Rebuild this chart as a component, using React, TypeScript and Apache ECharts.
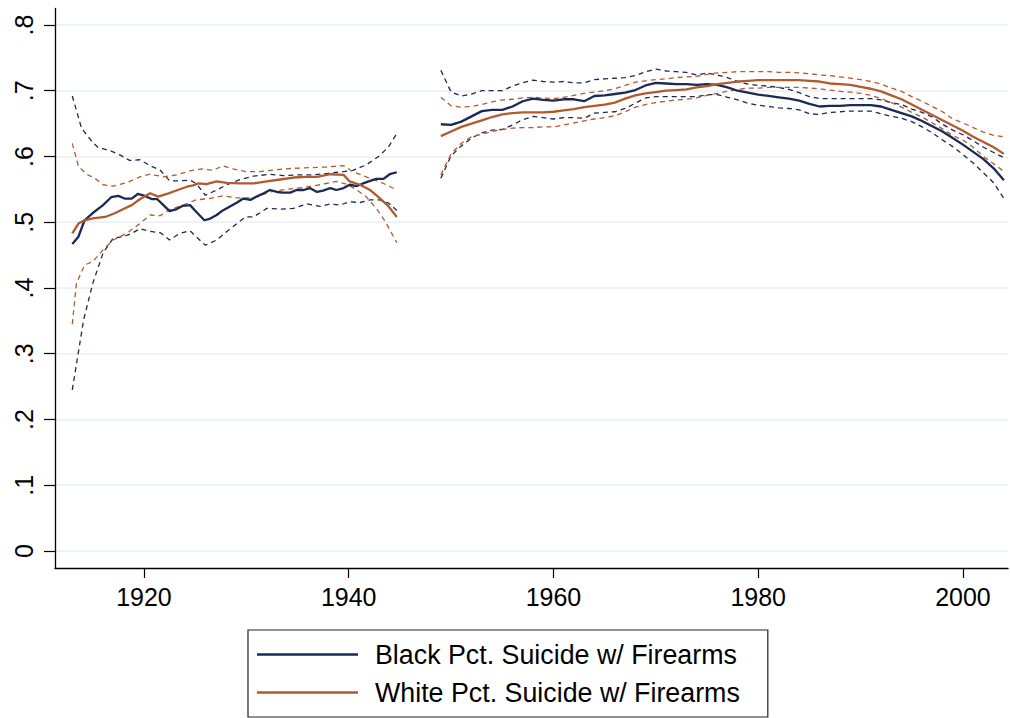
import React, { useEffect, useRef } from "react";
import * as echarts from "echarts";

// Axis ticks
const xTicks = [1920, 1940, 1960, 1980, 2000];
const yTicks = [0, 0.1, 0.2, 0.3, 0.4, 0.5, 0.6, 0.7, 0.8];

// Legend labels
const blackName = "Black Pct. Suicide w/ Firearms";
const whiteName = "White Pct. Suicide w/ Firearms";

// Early period (1913-1945): [year, share]
const blackEarly = [
  [1913.0, 0.467], [1913.6, 0.478], [1914.2, 0.503], [1915.0, 0.514], [1916.0, 0.526],
  [1916.8, 0.538], [1917.5, 0.54], [1918.1, 0.536], [1918.8, 0.536], [1919.4, 0.543],
  [1920.1, 0.54], [1920.8, 0.535], [1921.3, 0.535], [1921.9, 0.526], [1922.5, 0.517],
  [1923.2, 0.52], [1923.8, 0.525], [1924.5, 0.526], [1925.1, 0.516], [1925.9, 0.503],
  [1926.4, 0.505], [1927.1, 0.511], [1927.7, 0.518], [1928.4, 0.524], [1929.1, 0.53],
  [1929.7, 0.536], [1930.4, 0.534], [1931.0, 0.539], [1931.7, 0.544], [1932.3, 0.549],
  [1933.0, 0.546], [1933.6, 0.545], [1934.3, 0.545], [1934.9, 0.549], [1935.6, 0.549],
  [1936.2, 0.552], [1936.9, 0.546], [1937.5, 0.548], [1938.2, 0.552], [1938.8, 0.549],
  [1939.5, 0.552], [1940.1, 0.557], [1940.8, 0.555], [1941.4, 0.559], [1942.1, 0.563],
  [1942.7, 0.566], [1943.4, 0.566], [1944.0, 0.573], [1944.7, 0.576],
];
const blackEarlyHi = [
  [1913.0, 0.692], [1913.9, 0.643], [1914.9, 0.623], [1915.5, 0.614], [1916.8, 0.608],
  [1917.7, 0.602], [1918.6, 0.594], [1919.6, 0.595], [1920.6, 0.586], [1921.6, 0.579],
  [1922.5, 0.563], [1923.5, 0.563], [1924.5, 0.564], [1925.1, 0.559], [1926.0, 0.541],
  [1927.1, 0.549], [1928.1, 0.557], [1929.4, 0.565], [1930.7, 0.57], [1932.3, 0.573],
  [1933.6, 0.571], [1935.2, 0.572], [1936.5, 0.572], [1937.8, 0.574], [1939.5, 0.577],
  [1940.4, 0.579], [1941.7, 0.587], [1943.0, 0.601], [1943.9, 0.615], [1944.7, 0.635],
];
const blackEarlyLo = [
  [1913.0, 0.245], [1914.1, 0.351], [1915.0, 0.407], [1916.0, 0.453], [1917.0, 0.476],
  [1918.0, 0.478], [1918.8, 0.483], [1919.6, 0.49], [1920.6, 0.486], [1921.6, 0.484],
  [1922.5, 0.473], [1923.5, 0.483], [1924.5, 0.487], [1925.1, 0.478], [1926.0, 0.465],
  [1927.1, 0.473], [1928.1, 0.486], [1929.1, 0.498], [1929.9, 0.508], [1930.7, 0.508],
  [1932.0, 0.521], [1933.3, 0.52], [1934.6, 0.521], [1935.9, 0.528], [1937.2, 0.524],
  [1938.2, 0.528], [1939.1, 0.526], [1940.1, 0.531], [1941.1, 0.53], [1942.1, 0.534],
  [1943.0, 0.534], [1943.9, 0.529], [1944.7, 0.518],
];
const whiteEarly = [
  [1913.0, 0.483], [1913.6, 0.498], [1914.2, 0.503], [1915.0, 0.506], [1916.2, 0.508],
  [1917.2, 0.514], [1918.0, 0.52], [1918.8, 0.526], [1919.6, 0.535], [1920.6, 0.544],
  [1921.4, 0.539], [1922.4, 0.544], [1923.3, 0.549], [1924.2, 0.554], [1924.8, 0.556],
  [1925.3, 0.559], [1926.1, 0.558], [1927.1, 0.562], [1928.1, 0.56], [1929.4, 0.559],
  [1930.7, 0.559], [1932.0, 0.562], [1933.3, 0.565], [1934.6, 0.568], [1935.9, 0.569],
  [1936.9, 0.569], [1937.5, 0.571], [1938.2, 0.573], [1939.5, 0.572], [1940.1, 0.562],
  [1941.1, 0.557], [1942.1, 0.549], [1943.0, 0.537], [1943.9, 0.524], [1944.7, 0.508],
];
const whiteEarlyHi = [
  [1913.0, 0.62], [1913.6, 0.585], [1914.4, 0.573], [1915.2, 0.567], [1916.0, 0.557],
  [1917.0, 0.555], [1918.3, 0.56], [1919.6, 0.569], [1920.6, 0.573], [1921.9, 0.569],
  [1923.2, 0.572], [1924.5, 0.578], [1925.6, 0.581], [1926.8, 0.579], [1927.7, 0.586],
  [1928.7, 0.581], [1930.0, 0.577], [1931.3, 0.577], [1933.0, 0.58], [1934.6, 0.582],
  [1936.2, 0.583], [1937.8, 0.584], [1939.5, 0.586], [1940.4, 0.577], [1941.7, 0.569],
  [1943.0, 0.562], [1944.7, 0.549],
];
const whiteEarlyLo = [
  [1913.0, 0.345], [1913.4, 0.407], [1914.2, 0.435], [1915.0, 0.44], [1916.0, 0.458],
  [1917.0, 0.473], [1918.3, 0.483], [1919.6, 0.498], [1920.6, 0.511], [1921.6, 0.51],
  [1922.5, 0.519], [1923.8, 0.526], [1925.1, 0.534], [1926.4, 0.536], [1927.7, 0.54],
  [1929.1, 0.537], [1930.7, 0.537], [1932.3, 0.546], [1933.9, 0.55], [1935.6, 0.553],
  [1937.2, 0.557], [1938.8, 0.562], [1939.8, 0.558], [1940.8, 0.549], [1941.7, 0.539],
  [1942.7, 0.521], [1943.5, 0.503], [1944.7, 0.469],
];

// Later period, one value per year 1949-2004
const lateYears = Array.from({ length: 56 }, (_, i) => 1949 + i);
const blackLate = [
  0.649, 0.648, 0.653, 0.661, 0.669, 0.671, 0.671, 0.676, 0.684, 0.688,
  0.686, 0.685, 0.687, 0.687, 0.684, 0.692, 0.693, 0.695, 0.697, 0.701,
  0.708, 0.712, 0.711, 0.71, 0.71, 0.709, 0.71, 0.709, 0.705, 0.7,
  0.697, 0.694, 0.692, 0.69, 0.688, 0.685, 0.68, 0.676, 0.677, 0.677,
  0.678, 0.678, 0.678, 0.676, 0.671, 0.666, 0.661, 0.654, 0.646, 0.638,
  0.628, 0.618, 0.607, 0.596, 0.582, 0.564,
];
const blackLateHi = [
  0.731, 0.698, 0.692, 0.695, 0.7, 0.7, 0.7, 0.707, 0.712, 0.716,
  0.714, 0.713, 0.714, 0.712, 0.712, 0.717, 0.718, 0.719, 0.72, 0.723,
  0.729, 0.733, 0.73, 0.729, 0.728, 0.724, 0.727, 0.724, 0.72, 0.714,
  0.71, 0.708, 0.707, 0.705, 0.702, 0.697, 0.691, 0.688, 0.688, 0.688,
  0.688, 0.688, 0.688, 0.686, 0.682, 0.679, 0.672, 0.667, 0.66, 0.649,
  0.64, 0.633, 0.624, 0.614, 0.606, 0.598,
];
const blackLateLo = [
  0.567, 0.601, 0.616, 0.628, 0.636, 0.64, 0.641, 0.648, 0.656, 0.661,
  0.659, 0.657, 0.659, 0.659, 0.658, 0.666, 0.667, 0.668, 0.673, 0.681,
  0.689, 0.691, 0.691, 0.691, 0.691, 0.691, 0.694, 0.694, 0.69, 0.686,
  0.681, 0.678, 0.676, 0.674, 0.673, 0.671, 0.665, 0.664, 0.667, 0.668,
  0.669, 0.669, 0.669, 0.665, 0.661, 0.658, 0.653, 0.645, 0.636, 0.625,
  0.615, 0.603, 0.59, 0.575, 0.56, 0.536,
];
const whiteLate = [
  0.631, 0.638, 0.645, 0.65, 0.655, 0.66, 0.664, 0.666, 0.667, 0.667,
  0.667, 0.668, 0.67, 0.672, 0.675, 0.677, 0.679, 0.682, 0.688, 0.693,
  0.696, 0.698, 0.7, 0.701, 0.702, 0.705, 0.707, 0.71, 0.712, 0.714,
  0.715, 0.716, 0.716, 0.716, 0.716, 0.716, 0.715, 0.714, 0.711, 0.71,
  0.709, 0.706, 0.703, 0.699, 0.693, 0.687, 0.679, 0.671, 0.663, 0.655,
  0.647, 0.639, 0.63, 0.622, 0.614, 0.604,
];
const whiteLateHi = [
  0.69, 0.677, 0.675, 0.676, 0.679, 0.683, 0.686, 0.687, 0.689, 0.69,
  0.689, 0.688, 0.69, 0.693, 0.696, 0.698, 0.7, 0.703, 0.708, 0.713,
  0.715, 0.717, 0.718, 0.72, 0.721, 0.722, 0.725, 0.727, 0.728, 0.729,
  0.729, 0.729, 0.729, 0.728, 0.728, 0.727, 0.726, 0.724, 0.723, 0.721,
  0.719, 0.717, 0.714, 0.71, 0.704, 0.699, 0.691, 0.684, 0.676, 0.668,
  0.657, 0.651, 0.644, 0.637, 0.632, 0.63,
];
const whiteLateLo = [
  0.572, 0.604, 0.62, 0.63, 0.634, 0.638, 0.641, 0.643, 0.644, 0.644,
  0.645, 0.645, 0.648, 0.651, 0.654, 0.657, 0.659, 0.662, 0.668, 0.675,
  0.679, 0.682, 0.684, 0.686, 0.687, 0.689, 0.693, 0.696, 0.699, 0.702,
  0.704, 0.704, 0.705, 0.705, 0.705, 0.705, 0.704, 0.703, 0.701, 0.699,
  0.698, 0.696, 0.693, 0.688, 0.682, 0.675, 0.667, 0.66, 0.651, 0.642,
  0.632, 0.625, 0.614, 0.6, 0.589, 0.577,
];

const NAVY = "#1b2a55";
const RUST = "#b35a2d";
const FONT = "'Liberation Sans', Arial, Helvetica, sans-serif";

const late = (vals: number[]) => lateYears.map((y, i) => [y, vals[i]]);

const lineSeries = (name: string, data: number[][], color: string, dashed: boolean) => ({
  type: "line",
  name,
  data,
  symbol: "none",
  showSymbol: false,
  silent: true,
  z: dashed ? 2 : 3,
  itemStyle: { color },
  lineStyle: dashed
    ? { color, width: 1.3, type: [5, 4] }
    : { color, width: 2.3, type: "solid" },
});

const fmtY = (v: number) => (v === 0 ? "0" : String(v).replace(/^0/, ""));

export default function App() {
  const ref = useRef<HTMLDivElement>(null);

  useEffect(() => {
    if (!ref.current) return;
    const chart = echarts.init(ref.current, null, { renderer: "svg" });
    chart.setOption({
      animation: false,
      backgroundColor: "#ffffff",
      textStyle: { fontFamily: FONT },
      grid: { left: 55, right: 2, top: 8.4, bottom: 150, containLabel: false },
      xAxis: {
        type: "value",
        min: 1911.31,
        max: 2004.4,
        axisLine: { show: true, onZero: false, lineStyle: { color: "#000", width: 1.3 } },
        axisTick: { show: true, customValues: xTicks, length: 10, lineStyle: { color: "#000", width: 1.2 } },
        axisLabel: {
          customValues: xTicks,
          margin: 16,
          fontSize: 25,
          color: "#000",
          fontFamily: FONT,
          formatter: (v: number) => String(v),
        },
        splitLine: { show: false },
      },
      yAxis: {
        type: "value",
        min: -0.02586,
        max: 0.8252,
        axisLine: { show: true, onZero: false, lineStyle: { color: "#000", width: 1.3 } },
        axisTick: { show: true, customValues: yTicks, length: 11, lineStyle: { color: "#000", width: 1.2 } },
        axisLabel: {
          customValues: yTicks,
          rotate: 90,
          margin: 19,
          fontSize: 25,
          color: "#000",
          fontFamily: FONT,
          formatter: fmtY,
        },
        splitLine: { show: true, lineStyle: { color: "#e9f0f2", width: 1.6 } },
      },
      legend: {
        data: [
          { name: blackName, icon: "rect", itemStyle: { color: NAVY } },
          { name: whiteName, icon: "rect", itemStyle: { color: RUST } },
        ],
        orient: "vertical",
        left: 248,
        top: 630,
        padding: [11, 28, 11, 9],
        itemWidth: 101,
        itemHeight: 2.3,
        itemGap: 11,
        borderColor: "#222",
        borderWidth: 1.2,
        borderRadius: 0,
        selectedMode: false,
        textStyle: { fontSize: 26.8, color: "#000", fontFamily: FONT, padding: [0, 0, 0, 12] },
      },
      series: [
        lineSeries("black-hi-early", blackEarlyHi, NAVY, true),
        lineSeries("black-lo-early", blackEarlyLo, NAVY, true),
        lineSeries("white-hi-early", whiteEarlyHi, RUST, true),
        lineSeries("white-lo-early", whiteEarlyLo, RUST, true),
        lineSeries("black-hi-late", late(blackLateHi), NAVY, true),
        lineSeries("black-lo-late", late(blackLateLo), NAVY, true),
        lineSeries("white-hi-late", late(whiteLateHi), RUST, true),
        lineSeries("white-lo-late", late(whiteLateLo), RUST, true),
        lineSeries(blackName, blackEarly, NAVY, false),
        lineSeries(whiteName, whiteEarly, RUST, false),
        lineSeries(blackName, late(blackLate), NAVY, false),
        lineSeries(whiteName, late(whiteLate), RUST, false),
      ],
    });
    return () => chart.dispose();
  }, []);

  return (
    <div
      ref={ref}
      style={{ position: "fixed", left: 0, top: 0, width: 1010, height: 718, background: "#fff" }}
    />
  );
}
